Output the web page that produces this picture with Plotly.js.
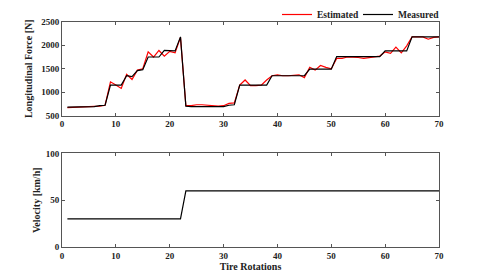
<!DOCTYPE html>
<html>
<head>
<meta charset="utf-8">
<script src="https://cdn.plot.ly/plotly-3.0.1.min.js"></script>
<style>html,body{margin:0;padding:0;background:#fff;}#chart{width:485px;height:277px;}</style>
</head>
<body>
<div id="chart"></div>
<script>
var rotations = [];
for (var i = 1; i <= 70; i++) rotations.push(i);

var measuredForce = [680,680,680,685,685,690,710,720,1150,1150,
  1150,1350,1330,1460,1480,1750,1750,1750,1890,1890,
  1880,2180,700,690,690,695,695,690,690,690,
  720,730,1150,1150,1150,1150,1150,1150,1350,1350,
  1350,1350,1350,1350,1350,1490,1490,1490,1490,1490,
  1760,1760,1760,1760,1760,1760,1760,1760,1760,1880,
  1880,1880,1880,1880,2180,2180,2180,2170,2180,2180];

var estimatedForce = [670,675,665,680,680,685,700,720,1220,1150,
  1080,1380,1270,1470,1500,1860,1750,1890,1770,1870,
  1840,2170,710,710,730,730,720,700,700,710,
  760,770,1150,1260,1140,1140,1150,1260,1350,1370,
  1350,1350,1360,1370,1310,1530,1470,1570,1530,1500,
  1720,1720,1750,1750,1740,1720,1740,1750,1770,1860,
  1830,1960,1840,1990,2180,2180,2180,2130,2170,2180];

var velocity = [];
for (var j = 1; j <= 70; j++) velocity.push(j <= 22 ? 30 : 60);

var fontFam = 'Liberation Serif, Times New Roman, serif';
var axisColor = '#555';

var traces = [
  {x: rotations, y: estimatedForce, type: 'scatter', mode: 'lines', name: '<b>Estimated</b>',
   line: {color: '#ff0000', width: 1.2}, xaxis: 'x', yaxis: 'y'},
  {x: rotations, y: measuredForce, type: 'scatter', mode: 'lines', name: '<b>Measured</b>',
   line: {color: '#000000', width: 1.2}, xaxis: 'x', yaxis: 'y'},
  {x: rotations, y: velocity, type: 'scatter', mode: 'lines', showlegend: false,
   line: {color: '#000000', width: 1.2}, xaxis: 'x2', yaxis: 'y2'}
];

function xax(anchor, title) {
  var a = {
    anchor: anchor, domain: [0, 1], range: [0, 70], tickvals: [0,10,20,30,40,50,60,70],
    ticks: 'inside', ticklen: 3, tickcolor: axisColor, showline: true, linecolor: axisColor,
    linewidth: 1, mirror: 'ticks', showgrid: false, zeroline: false,
    tickfont: {family: fontFam, size: 9, color: '#222', weight: 'bold'}
  };
  if (title) a.title = {text: title, font: {family: fontFam, size: 10, color: '#222', weight: 'bold'}, standoff: 2};
  return a;
}

var layout = {
  width: 485, height: 277,
  margin: {l: 62, r: 46, t: 0, b: 30},
  paper_bgcolor: '#fff', plot_bgcolor: '#fff',
  font: {family: fontFam},
  showlegend: true,
  legend: {orientation: 'h', x: 1.0, xanchor: 'right', y: 1.005, yanchor: 'top',
    font: {family: fontFam, size: 9.5, color: '#222'}, bgcolor: 'rgba(0,0,0,0)',
    entrywidth: 36, tracegroupgap: 0},
  xaxis: xax('y', null),
  yaxis: {
    domain: [0.5344, 0.915], range: [500, 2500], tickvals: [500,1000,1500,2000,2500],
    ticks: 'inside', ticklen: 3, tickcolor: axisColor, showline: true, linecolor: axisColor,
    linewidth: 1, mirror: 'ticks', showgrid: false, zeroline: false,
    tickfont: {family: fontFam, size: 9, color: '#222', weight: 'bold'},
    title: {text: 'Longitudinal Force [N]', font: {family: fontFam, size: 10, color: '#222', weight: 'bold'}, standoff: 6}
  },
  xaxis2: xax('y2', 'Tire Rotations'),
  yaxis2: {
    domain: [0, 0.3806], range: [0, 100], tickvals: [0,50,100], anchor: 'x2',
    ticks: 'inside', ticklen: 3, tickcolor: axisColor, showline: true, linecolor: axisColor,
    linewidth: 1, mirror: 'ticks', showgrid: false, zeroline: false,
    tickfont: {family: fontFam, size: 9, color: '#222', weight: 'bold'},
    title: {text: 'Velocity [km/h]', font: {family: fontFam, size: 10, color: '#222', weight: 'bold'}, standoff: 3}
  }
};

Plotly.newPlot('chart', traces, layout, {displayModeBar: false, staticPlot: true});
</script>
</body>
</html>
